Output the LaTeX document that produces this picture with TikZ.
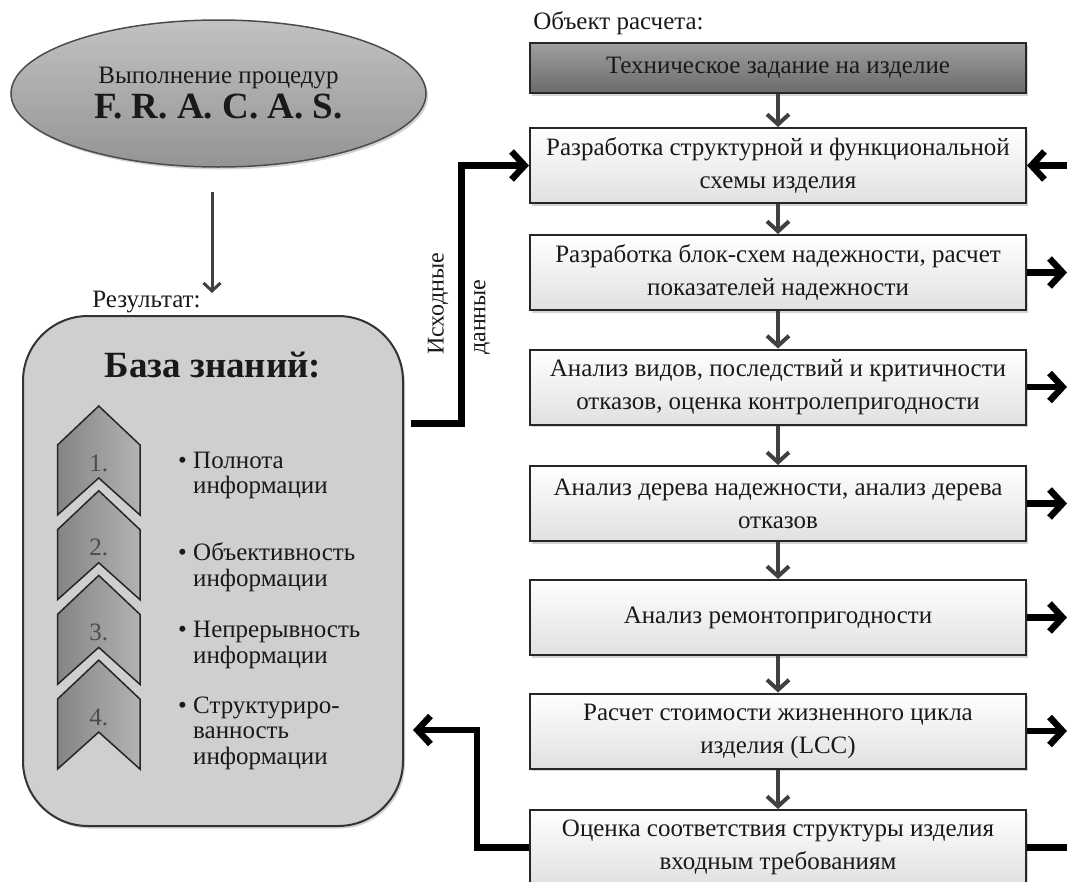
\documentclass[tikz,border=0pt]{standalone}
\usepackage{fontspec}
\setmainfont{Liberation Serif}
\usetikzlibrary{shapes.geometric,arrows.meta,shadows,positioning}

\newcommand{\bulgap}{\hphantom{\textbullet\ }}

\tikzset{
  softshadow/.style={drop shadow={shadow xshift=2pt,shadow yshift=-2.5pt,opacity=.35}},
  caption/.style={text=black!90,font=\fontsize{25}{28}\selectfont,inner sep=0pt},
  stagebox/.style={draw=black!85,line width=2pt,top color=white,bottom color=black!12,
    minimum width=496pt,minimum height=75pt,inner sep=0pt,align=center,text=black!90,
    font=\fontsize{25}{33}\selectfont,softshadow},
  kbbox/.style={draw=black!80,line width=2pt,fill=black!19,rounded corners=65pt,
    minimum width=380pt,minimum height=510pt,softshadow},
  chev/.style={draw=black!85,line width=1.5pt,left color=black!48,right color=black!30},
  item/.style={anchor=west,align=left,inner sep=0pt,text=black!90,font=\fontsize{25}{25.5}\selectfont},
  flow/.style={draw=black!75,line width=4pt,-{Straight Barb[length=10pt,width=22pt]}},
  feed/.style={draw=black,line width=6.5pt,-{Straight Barb[length=13pt,width=28pt]}},
  feedline/.style={draw=black,line width=6.5pt},
  thinflow/.style={draw=black!75,line width=3pt,-{Straight Barb[length=8pt,width=17pt]}}
}

\begin{document}
\begin{tikzpicture}[x=1pt,y=-1pt]
\useasboundingbox (0,0) rectangle (1067,881);
\clip (0,0) rectangle (1067,881);

\node at (218.5,93.5) (F) [ellipse,draw=black!70,line width=1.5pt,top color=black!24,
  bottom color=black!42,minimum width=415pt,minimum height=147pt,inner sep=0pt,
  align=center,text=black!90,softshadow]
  {{\fontsize{25}{34}\selectfont Выполнение процедур}\\[4pt]
   {\bfseries\fontsize{37}{37}\selectfont F. R. A. C. A. S.}};
\coordinate (fa) at (212,192);
\coordinate (fb) at (212,293);
\draw[thinflow] (fa) -- (fb);

\node at (146.5,302) (res) [caption] {Результат:};
\node at (213,571) (kb) [kbbox] {};
\node at (213,365) (kbt) [text=black!90,font=\bfseries\fontsize{37}{40}\selectfont] {База знаний:};

\foreach \n in {1,2,3,4} {
  \pgfmathsetmacro{\yt}{406+84.7*(\n-1)}
  \draw[chev] (57.5,\yt+39) -- (98.75,\yt) -- (140,\yt+39) -- (140,\yt+109)
    -- (98.75,\yt+72) -- (57.5,\yt+109) -- cycle;
  \node at (98.75,\yt+57) (c\n) [text=black!70,font=\fontsize{25}{28}\selectfont] {\n.};
}

\node at (178,475.5) (i1) [item] {\textbullet\ Полнота\\\bulgap информации};
\node at (178,567) (i2) [item] {\textbullet\ Объективность\\\bulgap информации};
\node at (178,645) (i3) [item] {\textbullet\ Непрерывность\\\bulgap информации};
\node at (178,733) (i4) [item] {\textbullet\ Структуриро-\\\bulgap ванность\\\bulgap информации};

\node at (618.5,23) (obj) [caption] {Объект расчета:};
\node at (778,68) (b0) [stagebox,top color=black!38,bottom color=black!58,minimum height=50pt]
  {Техническое задание на изделие};
\node at (778,165.5) (b1) [stagebox] {Разработка структурной и функциональной\\схемы изделия};
\node at (778,272.5) (b2) [stagebox] {Разработка блок-схем надежности, расчет\\показателей надежности};
\node at (778,387) (b3) [stagebox] {Анализ видов, последствий и критичности\\отказов, оценка контролепригодности};
\node at (778,503.5) (b4) [stagebox] {Анализ дерева надежности, анализ дерева\\отказов};
\node at (778,617.5) (b5) [stagebox] {Анализ ремонтопригодности};
\node at (778,731) (b6) [stagebox] {Расчет стоимости жизненного цикла\\изделия (LCC)};
\node at (778,847.5) (b7) [stagebox] {Оценка соответствия структуры изделия\\входным требованиям};

\foreach \a/\b in {b0/b1,b1/b2,b2/b3,b3/b4,b4/b5,b5/b6,b6/b7}
  \draw[flow] (\a) -- (\b);

\coordinate (edge) at (1067,0);
\draw[feed] (b1.east -| edge) -- (b1.east);
\foreach \b in {b2,b3,b4,b5,b6}
  \draw[feed] (\b.east) -- (\b.east -| edge);
\draw[feedline] (b7.east) -- (b7.east -| edge);

\coordinate (kbout) at (411,423.5);
\coordinate (up) at (461.5,423.5);
\draw[feed] (kbout) -- (up) |- (b1.west);
\node at (438,355) (src) [caption,font=\fontsize{24}{26}\selectfont,rotate=90,anchor=west] {Исходные};
\node at (482,355) (dat) [caption,font=\fontsize{24}{26}\selectfont,rotate=90,anchor=west] {данные};

\coordinate (kbin) at (413,730);
\coordinate (dn) at (477,730);
\draw[feed] (b7.west) -| (dn) -- (kbin);
\end{tikzpicture}
\end{document}
